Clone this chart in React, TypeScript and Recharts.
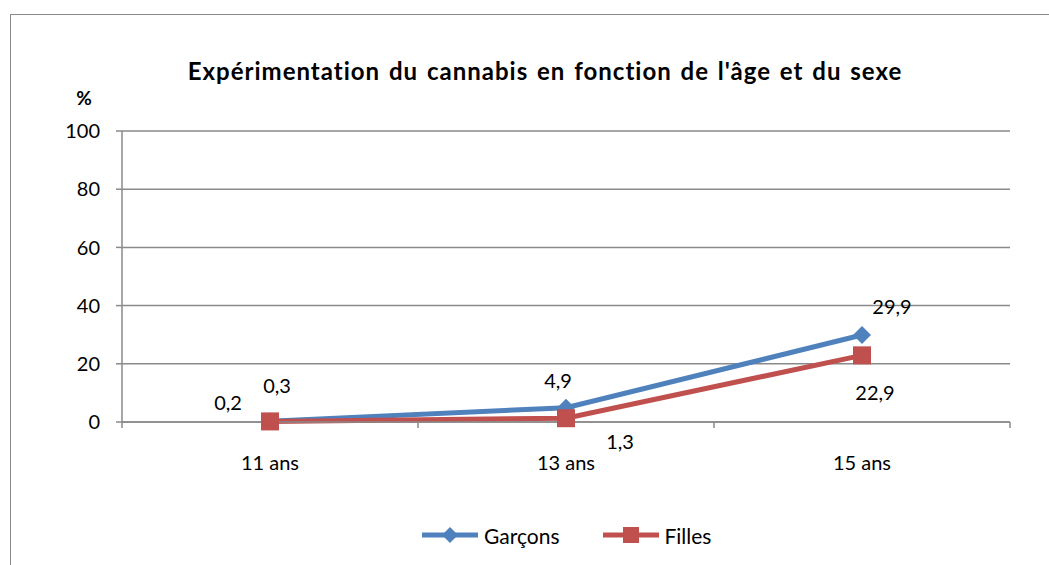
import React from 'react'
import {
  LineChart,
  Line,
  XAxis,
  YAxis,
  CartesianGrid,
  Legend,
  LabelList,
} from 'recharts'

// Age groups and percentages
const categories = ['11 ans', '13 ans', '15 ans']
const garcons = [0.3, 4.9, 29.9]
const filles = [0.2, 1.3, 22.9]
const yTicks = [0, 20, 40, 60, 80, 100]

// label placement (dx, dy) around each point, as in the original
const garconsLabelPos = [[7, -35], [-8, -27], [30, -28]]
const fillesLabelPos = [[-42, -18], [54, 24], [13, 38]]

const COLORS = {
  garcons: '#4F81BD',
  filles: '#C0504D',
  grid: '#8a8a8a',
}

const FONT = 'Lato, "Open Sans", sans-serif'

const data = categories.map((name, i) => ({
  x: i + 0.5,
  name,
  garcons: garcons[i],
  filles: filles[i],
}))

// ticks at category boundaries (integers) and labels at centres (halves)
const xTicks = [0, 0.5, 1, 1.5, 2, 2.5, 3]

function fmt(v: number) {
  return String(v).replace('.', ',')
}

function XTick(props: any) {
  const { x, y, payload } = props
  const v = payload.value
  if (Number.isInteger(v)) {
    return <line x1={x} x2={x} y1={y - 6} y2={y} stroke={COLORS.grid} strokeWidth={1.5} />
  }
  return (
    <text x={x} y={y + 42} textAnchor="middle" fill="#000" fontSize={20} fontFamily={FONT}>
      {categories[Math.floor(v)]}
    </text>
  )
}

function Diamond({ cx, cy, size = 9 }: any) {
  if (cx == null || cy == null) return null
  return (
    <path
      d={`M${cx},${cy - size} L${cx + size},${cy} L${cx},${cy + size} L${cx - size},${cy} Z`}
      fill={COLORS.garcons}
    />
  )
}

function Square({ cx, cy, size = 9 }: any) {
  if (cx == null || cy == null) return null
  return <rect x={cx - size} y={cy - size} width={size * 2} height={size * 2} fill={COLORS.filles} />
}

function makeLabel(pos: number[][]) {
  return (props: any) => {
    const { x, y, value, index } = props
    const [dx, dy] = pos[index] || [0, -20]
    return (
      <text
        x={x + dx}
        y={y + dy + 7}
        textAnchor="middle"
        fill="#000"
        fontSize={20}
        fontFamily={FONT}
      >
        {fmt(value)}
      </text>
    )
  }
}

function LegendContent() {
  const items = [
    { name: 'Garçons', color: COLORS.garcons, marker: 'diamond' },
    { name: 'Filles', color: COLORS.filles, marker: 'square' },
  ]
  return (
    <div
      style={{
        display: 'flex',
        alignItems: 'center',
        gap: 43,
        paddingLeft: 422,
        height: 30,
        fontFamily: FONT,
        fontSize: 21,
        color: '#000',
      }}
    >
      {items.map((it) => (
        <div key={it.name} style={{ display: 'flex', alignItems: 'center' }}>
          <svg width={56} height={20} style={{ marginRight: 6 }}>
            <line x1={0} x2={56} y1={10} y2={10} stroke={it.color} strokeWidth={5} />
            {it.marker === 'diamond' ? (
              <Diamond cx={28} cy={10} size={8} />
            ) : (
              <Square cx={28} cy={10} size={8} />
            )}
          </svg>
          <span>{it.name}</span>
        </div>
      ))}
    </div>
  )
}

export default function App() {
  return (
    <div
      style={{
        position: 'absolute',
        left: 0,
        top: 0,
        width: 1049,
        height: 565,
        overflow: 'hidden',
        background: '#fff',
      }}
    >
      <div
        style={{
          position: 'absolute',
          left: 10,
          top: 14,
          width: 1100,
          height: 600,
          border: '1.5px solid #8a8a8a',
        }}
      />
      <div
        style={{
          position: 'absolute',
          left: 0,
          top: 56,
          width: 1090,
          textAlign: 'center',
          fontFamily: FONT,
          fontWeight: 700,
          fontSize: 24,
          letterSpacing: 1,
          wordSpacing: 2,
          color: '#000',
        }}
      >
        Expérimentation du cannabis en fonction de l'âge et du sexe
      </div>
      <div style={{ position: 'absolute', left: 0, top: 0 }}>
        <LineChart
          width={1049}
          height={565}
          data={data}
          margin={{ top: 131, right: 39, left: 62, bottom: 15 }}
        >
          <CartesianGrid vertical={false} stroke={COLORS.grid} strokeWidth={1.5} />
          <XAxis
            dataKey="x"
            type="number"
            domain={[0, 3]}
            ticks={xTicks}
            interval={0}
            height={98}
            tickLine={false}
            tickSize={6}
            tickMargin={0}
            axisLine={{ stroke: COLORS.grid, strokeWidth: 1.5 }}
            tick={<XTick />}
          />
          <YAxis
            width={60}
            domain={[0, 100]}
            ticks={yTicks}
            interval={0}
            tickSize={6}
            tickMargin={16}
            axisLine={{ stroke: COLORS.grid, strokeWidth: 1.5 }}
            tickLine={{ stroke: COLORS.grid, strokeWidth: 1.5 }}
            tick={{ fill: '#000', fontSize: 20, fontFamily: FONT }}
            label={{
              value: '%',
              position: 'top',
              offset: 26,
              dx: -8,
              fill: '#000',
              fontSize: 19,
              fontWeight: 700,
              fontFamily: FONT,
            }}
          />
          <Legend verticalAlign="bottom" height={30} wrapperStyle={{ left: 0, width: 1049 }} content={<LegendContent />} />
          <Line
            type="linear"
            dataKey="garcons"
            name="Garçons"
            stroke={COLORS.garcons}
            strokeWidth={5}
            dot={<Diamond />}
            activeDot={false}
            isAnimationActive={false}
          >
            <LabelList dataKey="garcons" content={makeLabel(garconsLabelPos)} />
          </Line>
          <Line
            type="linear"
            dataKey="filles"
            name="Filles"
            stroke={COLORS.filles}
            strokeWidth={5}
            dot={<Square />}
            activeDot={false}
            isAnimationActive={false}
          >
            <LabelList dataKey="filles" content={makeLabel(fillesLabelPos)} />
          </Line>
        </LineChart>
      </div>
    </div>
  )
}
